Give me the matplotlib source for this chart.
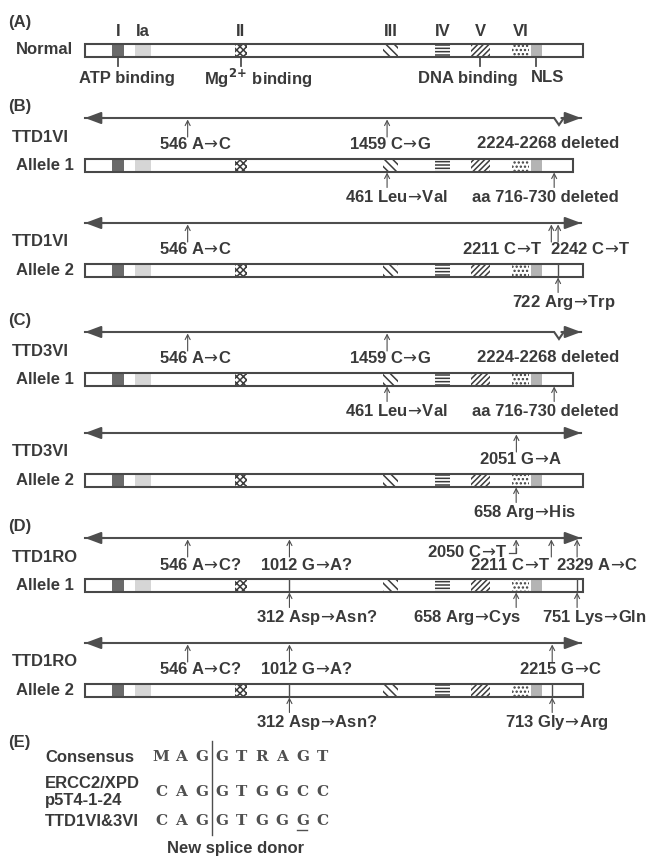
import matplotlib
matplotlib.use('Agg')
import matplotlib.pyplot as plt
from matplotlib.patches import Rectangle

plt.rcParams['font.family'] = ['Liberation Sans', 'DejaVu Sans']
plt.rcParams['mathtext.fontset'] = 'dejavusans'
plt.rcParams['hatch.linewidth'] = 1.1

TXT = '#3a3a3a'
LN = '#4e4e4e'
FS = 12

# ---- protein (amino acids) ----
protein_len = 760
domain_names = ['I', 'Ia', 'II', 'III', 'IV', 'V', 'VI', 'NLS']
domain_start = [41, 76, 229, 455, 534, 589, 652, 681]
domain_end = [60, 101, 247, 478, 557, 618, 678, 697]
domain_face = ['#6a6a6a', '#d6d6d6', 'white', 'white', 'white', 'white', 'white', '#b4b4b4']
domain_hatch = [None, None, 'xxxxx', '\\\\\\\\', '-----', '//////', '....', None]

motif_labels = ['I', 'Ia', 'II', 'III', 'IV', 'V', 'VI']
function_labels = ['ATP binding', 'Mg$^{\\mathbf{2\\!+\\!}}$ binding', 'DNA binding', 'NLS']
function_domain = ['I', 'II', 'V', 'NLS']
function_dx = [9, 17, -13, 11]

# ---- alleles ----
sections = ['(B)', None, '(C)', None, '(D)', None]
patients = ['TTD1VI', 'TTD1VI', 'TTD3VI', 'TTD3VI', 'TTD1RO', 'TTD1RO']
allele_names = ['Allele 1', 'Allele 2', 'Allele 1', 'Allele 2', 'Allele 1', 'Allele 2']
cdna_pos = [[546, 1459], [546, 2211, 2242], [546, 1459], [2051],
            [546, 1012, 2050, 2211, 2329], [546, 1012, 2215]]
cdna_text = [['546 A→C', '1459 C→G'],
             ['546 A→C', '2211 C→T', '2242 C→T'],
             ['546 A→C', '1459 C→G'],
             ['2051 G→A'],
             ['546 A→C?', '1012 G→A?', '2050 C→T', '2211 C→T', '2329 A→C'],
             ['546 A→C?', '1012 G→A?', '2215 G→C']]
cdna_dx = [[8, 3], [8, -49, 32], [8, 3], [4], [13, 17, None, -41, 20], [13, 17, 8]]
deleted_nt = [(2224, 2268), None, (2224, 2268), None, None, None]
deleted_text = '2224-2268 deleted'
prot_pos = [[461, 716], [722], [461, 716], [658], [312, 658, 751], [312, 713]]
prot_text = [['461 Leu→Val', 'aa 716-730 deleted'],
             ['722 Arg→Trp'],
             ['461 Leu→Val', 'aa 716-730 deleted'],
             ['658 Arg→His'],
             ['312 Asp→Asn?', '658 Arg→Cys', '751 Lys→Gln'],
             ['312 Asp→Asn?', '713 Gly→Arg']]
prot_dx = [[9, -9], [6], [9, -9], [8], [27, -49, 17], [27, 5]]
bar_len = [745, 760, 745, 760, 760, 760]
bar_marks = [[], [722], [], [], [312, 751], [312, 713]]
line_y = [118, 223, 332, 433, 538, 643]

# ---- splice site ----
seq_labels = ['Consensus', 'ERCC2/XPD\np5T4-1-24', 'TTD1VI&3VI']
sequences = ['MAGGTRAGT', 'CAGGTGGCC', 'CAGGTGGGC']
underlined = [None, None, 7]


def nt2aa(nt):
    return (nt - 76) / 3.0


W, H = 646, 858
fig = plt.figure(figsize=(W / 100, H / 100), dpi=100)
ax = fig.add_axes([0, 0, 1, 1])
px_per_aa = 498 / protein_len
x0 = -85 / px_per_aa
ax.set_xlim(x0, x0 + W / px_per_aa)
ax.set_ylim(H, 0)
ax.axis('off')


def d(px):
    return px / px_per_aa


def X(px):
    return x0 + px / px_per_aa


def txt(x, y, s, ha='center', **kw):
    s = s.replace('→', r'$\!\rightarrow\!$')
    ax.text(x, y, s, ha=ha, va='center', fontsize=kw.pop('fs', FS),
            fontweight=kw.pop('fw', 'bold'), color=kw.pop('c', TXT), **kw)


def up_arrow(x, y_from, y_to):
    ax.annotate('', xy=(x, y_to), xytext=(x, y_from),
                arrowprops=dict(arrowstyle='->,head_length=0.35,head_width=0.18',
                                lw=0.8, color=LN, shrinkA=0, shrinkB=0))


def protein_bar(yc, length, marks=()):
    for s, e, fc, h in zip(domain_start, domain_end, domain_face, domain_hatch):
        ax.add_patch(Rectangle((s, yc - 6.5), min(e, length) - s, 13, facecolor=fc,
                               hatch=h, edgecolor='#3c3c3c', lw=0, zorder=2))
    ax.add_patch(Rectangle((0, yc - 6.5), length, 13, facecolor='none',
                           edgecolor='#484848', lw=1.5, zorder=3))
    for m in marks:
        ax.plot([m, m], [yc - 6.5, yc + 6.5], color=LN, lw=1.0, zorder=3)


def dna_line(y, deletion=None):
    end = protein_len - 3
    if deletion:
        a, b = nt2aa(deletion[0]), nt2aa(deletion[1])
        xs = [0, a, (a + b) / 2, b, end]
        ys = [y, y, y + 7, y, y]
    else:
        xs, ys = [0, end], [y, y]
    ax.plot(xs, ys, color=LN, lw=1.5, solid_joinstyle='miter')
    for tip, tail in [(0, 30), (end, end - 30)]:
        ax.annotate('', xy=(tip, y), xytext=(tail, y),
                    arrowprops=dict(arrowstyle='-|>,head_length=0.8,head_width=0.3',
                                    mutation_scale=12, lw=1.5, color=LN,
                                    shrinkA=0, shrinkB=0))


# (A) normal protein
txt(X(8), 23, '(A)', ha='left')
yN = 50
txt(X(16), yN, 'Normal', ha='left')
protein_bar(yN, protein_len)
for name in motif_labels:
    i = domain_names.index(name)
    txt((domain_start[i] + domain_end[i]) / 2, 32, name)
for lab, dom, off in zip(function_labels, function_domain, function_dx):
    i = domain_names.index(dom)
    xc = (domain_start[i] + domain_end[i]) / 2
    ax.plot([xc, xc], [yN + 6.5, yN + 16], color=LN, lw=1.3)
    txt(xc + d(off), 78, lab)

# (B)-(D) patient alleles
for k in range(len(patients)):
    L = line_y[k]
    yb = L + 47.5
    if sections[k]:
        txt(X(8), L - 12, sections[k], ha='left')
    txt(X(12), L + 19, patients[k], ha='left')
    txt(X(16), yb, allele_names[k], ha='left')
    dna_line(L, deleted_nt[k])
    protein_bar(yb, bar_len[k], bar_marks[k])
    two_rows = len(cdna_pos[k]) > 3
    for nt, lab, off in zip(cdna_pos[k], cdna_text[k], cdna_dx[k]):
        xa = nt2aa(nt)
        if off is None:
            # label on the upper row, joined to its arrow by a bracket
            up_arrow(xa, L + 15, L + 1.5)
            ax.plot([xa, xa, xa - d(7)], [L + 10, L + 15, L + 15], color=LN, lw=0.9)
            txt(xa - d(9), L + 14, lab, ha='right')
            continue
        up_arrow(xa, L + 19, L + 1.5)
        txt(xa + d(off), L + 27 if two_rows else L + 26, lab)
    if deleted_nt[k]:
        a, b = nt2aa(deleted_nt[k][0]), nt2aa(deleted_nt[k][1])
        txt((a + b) / 2 + d(-11), L + 26, deleted_text)
    for aa, lab, off in zip(prot_pos[k], prot_text[k], prot_dx[k]):
        up_arrow(aa, yb + 22, yb + 7)
        txt(aa + d(off), yb + 32, lab)

# (E) splice donor
txt(X(8), 743, '(E)', ha='left')
seq_y = [757, 792, 821]
label_y = [[757], [784, 800], [821]]
pitch = 20.2
for lab, seq, ys, yl, u in zip(seq_labels, sequences, seq_y, label_y, underlined):
    for t, yy in zip(lab.split('\n'), yl):
        txt(X(45), yy, t, ha='left')
    for j, ch in enumerate(seq):
        xc = X(161 + pitch * j)
        ax.text(xc, ys, ch, ha='center', va='center', fontsize=11,
                family='DejaVu Serif', fontweight='bold', color='#505050')
        if u == j:
            ax.plot([xc - d(5), xc + d(5)], [ys + 9, ys + 9], color='#505050', lw=1.0)
xd = X(161 + pitch * 2.5)
ax.plot([xd, xd], [741, 835], color=LN, lw=1.0)
txt(X(236), 848, 'New splice donor')

fig.savefig('out.png', dpi=100, facecolor='white')
